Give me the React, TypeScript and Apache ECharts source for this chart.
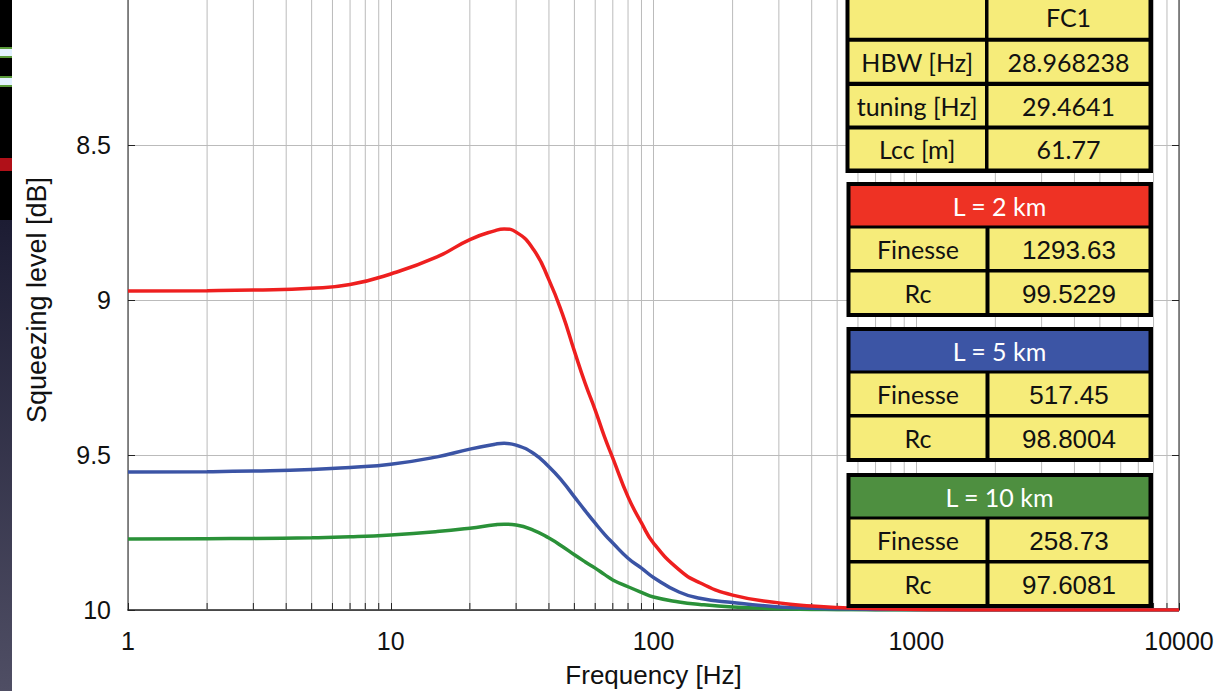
import React, { useEffect, useRef } from "react";
import * as echarts from "echarts";

// ---- data ----
const freqs = [1, 2, 3, 5, 7, 10, 15, 20, 25, 27, 30, 35, 40, 45, 50, 55, 60, 65, 70, 80, 90, 100, 125, 150, 200, 300, 400, 500, 700, 1000, 2000, 5000, 10000];
const red2km = [8.971, 8.970, 8.968, 8.962, 8.950, 8.916, 8.861, 8.805, 8.776, 8.771, 8.781, 8.838, 8.935, 9.045, 9.165, 9.27, 9.355, 9.44, 9.51, 9.635, 9.719, 9.784, 9.87, 9.912, 9.952, 9.977, 9.987, 9.992, 9.996, 9.998, 10.0, 10.0, 10.0];
const blue5km = [9.555, 9.554, 9.552, 9.547, 9.540, 9.530, 9.506, 9.481, 9.465, 9.462, 9.468, 9.495, 9.538, 9.585, 9.635, 9.68, 9.72, 9.755, 9.784, 9.833, 9.865, 9.895, 9.942, 9.962, 9.976, 9.99, 9.994, 9.996, 9.998, 9.999, 10.0, 10.0, 10.0];
const green10km = [9.771, 9.770, 9.769, 9.767, 9.764, 9.758, 9.747, 9.736, 9.725, 9.723, 9.726, 9.743, 9.768, 9.795, 9.822, 9.845, 9.865, 9.885, 9.903, 9.925, 9.943, 9.958, 9.974, 9.982, 9.99, 9.996, 9.998, 9.999, 10.0, 10.0, 10.0, 10.0, 10.0];
const minorFreqs = [2, 3, 4, 5, 6, 7, 8, 9, 20, 30, 40, 50, 60, 70, 80, 90, 200, 300, 400, 500, 600, 700, 800, 900, 2000, 3000, 4000, 5000, 6000, 7000, 8000, 9000];

const fcLabels = ["", "HBW [Hz]", "tuning [Hz]", "Lcc [m]"];
const fcValues = ["FC1", "28.968238", "29.4641", "61.77"];
const armHeaders = ["L = 2 km", "L = 5 km", "L = 10 km"];
const finesseVals = ["1293.63", "517.45", "258.73"];
const rcVals = ["99.5229", "98.8004", "97.6081"];

const RED = "#ee1f1f";
const BLUE = "#3b54a5";
const GREEN = "#2a9138";
const HEAD_COLORS = ["#ee3224", "#3c55a5", "#4e8f40"];
const YELLOW = "#f6ec7a";

function txt(x: number, y: number, text: string, fill: string, family: string, size = 25) {
  return {
    type: "text",
    x,
    y,
    z: 102,
    silent: true,
    style: {
      text,
      fill,
      fontSize: size,
      fontFamily: family,
      align: "center",
      verticalAlign: "middle",
      textAlign: "center",
      textVerticalAlign: "middle",
    },
  };
}
function rect(x: number, y: number, w: number, h: number, fill: string, z = 100) {
  return { type: "rect", z, silent: true, shape: { x, y, width: w, height: h }, style: { fill } };
}

function buildGraphics() {
  const els: any[] = [];
  // left slide strip
  els.push(rect(0, 0, 12, 220, "#000000", 100));
  els.push(rect(0, 47, 12, 11, "#5a9a3a", 101));
  els.push(rect(0, 49, 12, 7, "#e4f1ff", 102));
  els.push(rect(0, 76, 12, 11, "#5a9a3a", 101));
  els.push(rect(0, 78, 12, 7, "#e4f1ff", 102));
  els.push(rect(0, 158, 12, 13, "#b01018", 101));
  els.push({
    type: "rect",
    z: 100,
    silent: true,
    shape: { x: 0, y: 220, width: 12, height: 471 },
    style: {
      fill: new echarts.graphic.LinearGradient(0, 0, 0, 1, [
        { offset: 0, color: "#1c1c33" },
        { offset: 1, color: "#4f4e64" },
      ]),
    },
  });

  const L0 = 849.5, L1 = 985, R0 = 988.5, R1 = 1148.5;
  // block 1
  els.push(rect(845.5, -8, 307.5, 181, "#000000"));
  const rows1 = [[-8, 37.7], [41.7, 81.7], [86, 125.5], [129.5, 168.5]];
  rows1.forEach((r, i) => {
    els.push(rect(L0, r[0], L1 - L0, r[1] - r[0], YELLOW, 101));
    els.push(rect(R0, r[0], R1 - R0, r[1] - r[0], YELLOW, 101));
    const cy = i === 0 ? 17 : (r[0] + r[1]) / 2;
    if (fcLabels[i]) els.push(txt((L0 + L1) / 2, cy, fcLabels[i], "#111", "Lato", 25));
    els.push(txt((R0 + R1) / 2, cy, fcValues[i], "#111", "Lato", 25));
  });

  // arm blocks
  const tops = [182, 327, 473];
  tops.forEach((T, k) => {
    els.push(rect(846.5, T, 306.5, 135, "#000000"));
    els.push(rect(850.5, T + 4, R1 - 850.5, 39.5, HEAD_COLORS[k], 101));
    els.push(txt((850.5 + R1) / 2, T + 24, armHeaders[k], "#ffffff", "Lato", 25));
    const rows = [[T + 46.5, T + 87], [T + 90.5, T + 131]];
    const vals = [finesseVals[k], rcVals[k]];
    const labs = ["Finesse", "Rc"];
    rows.forEach((r, i) => {
      els.push(rect(850.5, r[0], 985.5 - 850.5, r[1] - r[0], YELLOW, 101));
      els.push(rect(989.5, r[0], R1 - 989.5, r[1] - r[0], YELLOW, 101));
      els.push(txt((850.5 + 985.5) / 2, (r[0] + r[1]) / 2, labs[i], "#111", "Lato", 25));
      els.push(txt((989.5 + R1) / 2, (r[0] + r[1]) / 2 + 1, vals[i], "#111", "Liberation Sans", 26));
    });
  });
  return els;
}

export default function App() {
  const ref = useRef<HTMLDivElement>(null);
  useEffect(() => {
    if (!ref.current) return;
    const chart = echarts.init(ref.current, null, { renderer: "svg" });
    const pair = (arr: number[]) => freqs.map((f, i) => [f, arr[i]]);
    const axisFont = { fontFamily: "Liberation Sans", fontSize: 25, color: "#111" };
    chart.setOption({
      animation: false,
      backgroundColor: "#ffffff",
      grid: { left: 128, right: 51, top: -10, bottom: 81, containLabel: false, outerBoundsMode: "none" },
      xAxis: {
        type: "log",
        logBase: 10,
        min: 1,
        max: 10000,
        name: "Frequency [Hz]",
        nameLocation: "middle",
        nameGap: 52,
        nameTextStyle: { fontFamily: "Liberation Sans", fontSize: 26, color: "#111" },
        axisLine: { show: true, onZero: false, lineStyle: { color: "#222", width: 1.5 } },
        axisTick: { show: true, inside: true, length: 7, lineStyle: { color: "#222" } },
        axisLabel: { ...axisFont, margin: 18, formatter: (v: number) => String(Math.round(v)) },
        splitLine: { show: true, lineStyle: { color: "#bbbbbb", width: 1 } },
      },
      yAxis: [
        {
          type: "value",
          inverse: true,
          min: 8,
          max: 10,
          interval: 0.5,
          name: "Squeezing level [dB]",
          nameLocation: "middle",
          nameGap: 78,
          nameTextStyle: { fontFamily: "Liberation Sans", fontSize: 27, color: "#111" },
          axisLine: { show: true, lineStyle: { color: "#666", width: 1.5 } },
          axisTick: { show: true, inside: true, length: 7, lineStyle: { color: "#222" } },
          axisLabel: { ...axisFont, margin: 17 },
          splitLine: { show: true, lineStyle: { color: "#bbbbbb", width: 1 } },
        },
        {
          type: "value",
          position: "right",
          inverse: true,
          min: 8,
          max: 10,
          interval: 0.5,
          axisLine: { show: true, lineStyle: { color: "#666", width: 1.5 } },
          axisTick: { show: true, inside: true, length: 7, lineStyle: { color: "#222" } },
          axisLabel: { show: false },
          splitLine: { show: false },
        },
      ],
      series: [
        {
          type: "custom",
          z: 1,
          silent: true,
          data: minorFreqs.map((f) => [f, 10]),
          encode: { x: 0, y: 1 },
          renderItem: (params: any, api: any) => {
            const f = api.value(0);
            const top = api.coord([f, 8]);
            const bot = api.coord([f, 10]);
            return {
              type: "group",
              children: [
                { type: "line", shape: { x1: top[0], y1: top[1], x2: bot[0], y2: bot[1] }, style: { stroke: "#bbbbbb", lineWidth: 1 } },
                { type: "line", shape: { x1: bot[0], y1: bot[1], x2: bot[0], y2: bot[1] - 7 }, style: { stroke: "#222", lineWidth: 1 } },
              ],
            };
          },
        },
        { name: "L = 10 km", type: "line", data: pair(green10km), showSymbol: false, smooth: 0.5, lineStyle: { color: GREEN, width: 3.5 }, z: 3 },
        { name: "L = 5 km", type: "line", data: pair(blue5km), showSymbol: false, smooth: 0.5, lineStyle: { color: BLUE, width: 3.5 }, z: 4 },
        { name: "L = 2 km", type: "line", data: pair(red2km), showSymbol: false, smooth: 0.5, lineStyle: { color: RED, width: 3.5 }, z: 5 },
      ],
      graphic: { elements: buildGraphics() },
    });
    return () => chart.dispose();
  }, []);
  return (
    <div
      ref={ref}
      style={{ position: "fixed", left: 0, top: 0, width: 1230, height: 691, background: "#fff" }}
    />
  );
}
